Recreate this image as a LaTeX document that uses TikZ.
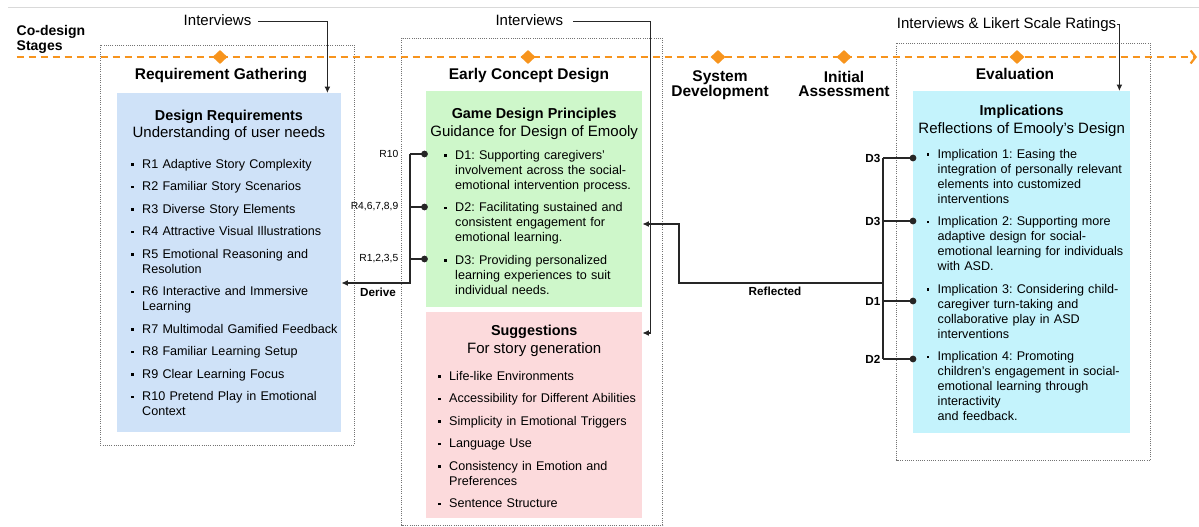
\documentclass[tikz,border=0pt]{standalone}
\usepackage{fontspec}
\setmainfont{Liberation Sans}
\usetikzlibrary{arrows.meta}
\usetikzlibrary{shapes.geometric}

\definecolor{reqblue}{HTML}{CFE2F8}
\definecolor{dpgreen}{HTML}{CEF7CA}
\definecolor{sugpink}{HTML}{FCDADC}
\definecolor{impcyan}{HTML}{C4F3FC}
\definecolor{stageorange}{HTML}{F7941D}

\frenchspacing
% one bullet point, hanging indent
\newcommand{\itm}[1]{\hangindent=11pt\hangafter=1\noindent\makebox[11pt][l]{\raisebox{2.3pt}{\rule{2.4pt}{2.4pt}}}#1\par}

\tikzset{
  stage/.style={draw=black!55, line width=.8pt, dash pattern=on .9pt off 1.3pt},
  panel/.style={fill=#1, inner sep=0pt, anchor=north west},
  stagetitle/.style={font=\fontsize{15.5}{14}\selectfont\bfseries, align=center, anchor=base, inner sep=0pt},
  boxtitle/.style={font=\fontsize{14.4}{17}\selectfont\bfseries, anchor=base, inner sep=0pt},
  boxsub/.style={font=\fontsize{15}{17}\selectfont, anchor=base, inner sep=0pt},
  itemlist/.style={font=\fontsize{12.6}{15}\selectfont, text width=#1, align=left, anchor=base west, inner sep=0pt,
    execute at begin node={\setlength{\parskip}{7.5pt}\hyphenpenalty=10000}},
  conn/.style={line width=1.2pt, draw=black!85},
  lab/.style={font=\fontsize{10.3}{12}\selectfont, anchor=east, inner sep=1pt},
  boldlab/.style={font=\fontsize{11.7}{13}\selectfont\bfseries, inner sep=1pt},
  milestone/.style={diamond, fill=stageorange, inner sep=0pt, minimum width=15pt, minimum height=14pt},
}

\begin{document}
\begin{tikzpicture}[x=1pt, y=-1pt, >={Latex[length=6.5pt,width=6pt]}]
\useasboundingbox (0,0) rectangle (1199,527);
\draw [black!15, line width=1.2pt] (8,7.3) -- (1199,7.3);

% timeline
\node [font=\fontsize{14}{15}\selectfont\bfseries, align=left, anchor=base west, inner sep=0pt] (cds) at (16.5,51) {Co-design\\Stages};
\draw [stage] (100,45) rectangle (354.5,445);
\draw [stage] (401.5,38) rectangle (662.5,525);
\draw [stage] (896.5,43.5) rectangle (1150.5,460);
\draw [stageorange, line width=2.2pt, dash pattern=on 7pt off 5pt, -{Straight Barb[length=5pt,width=13pt]}] (16.5,57) -- (1197,57);
\foreach \x [count=\i] in {220,528,718,844,1017}
  \node [milestone] (ms\i) at (\x,57) {};

\node [stagetitle] (rg) at (221,80) {Requirement Gathering};
\node [stagetitle] (ecd) at (529,80) {Early Concept Design};
\node [stagetitle] (sd) at (720,96.5) {System\\Development};
\node [stagetitle] (ia) at (844,96.5) {Initial\\Assessment};
\node [stagetitle] (ev) at (1015,80) {Evaluation};

% requirement gathering
\node [panel=reqblue, minimum width=224.5pt, minimum height=339pt] (dr) at (116.5,93) {};
\node [boxtitle] (drt) at (dr.north |- 0,120) {Design Requirements};
\node [boxsub] (drs) at (dr.north |- 0,137) {Understanding of user needs};
\node [itemlist=240pt] (drl) at (131,168) {%
  \itm{R1 Adaptive Story Complexity}
  \itm{R2 Familiar Story Scenarios}
  \itm{R3 Diverse Story Elements}
  \itm{R4 Attractive Visual Illustrations}
  \itm{R5 Emotional Reasoning and\newline Resolution}
  \itm{R6 Interactive and Immersive\newline Learning}
  \itm{R7 Multimodal Gamified Feedback}
  \itm{R8 Familiar Learning Setup}
  \itm{R9 Clear Learning Focus}
  \itm{R10 Pretend Play in Emotional\newline Context}};

% early concept design
\node [panel=dpgreen, minimum width=216pt, minimum height=216.5pt] (gdp) at (426,90.5) {};
\node [boxtitle] (gdpt) at (gdp.north |- 0,118.3) {Game Design Principles};
\node [boxsub] (gdps) at (gdp.north |- 0,136.7) {Guidance for Design of Emooly};
\node [itemlist=240pt] (gdpl) at (444,159) {%
  \itm{D1: Supporting caregivers’\newline involvement across the social-\newline emotional intervention process.}
  \itm{D2: Facilitating sustained and\newline consistent engagement for\newline emotional learning.}
  \itm{D3: Providing personalized\newline learning experiences to suit\newline individual needs.}};

\node [panel=sugpink, minimum width=216pt, minimum height=206pt] (sug) at (426,312) {};
\node [boxtitle] (sugt) at (sug.north |- 0,335.7) {Suggestions};
\node [boxsub] (sugs) at (sug.north |- 0,353.3) {For story generation};
\node [itemlist=240pt] (sugl) at (438,380) {%
  \itm{Life-like Environments}
  \itm{Accessibility for Different Abilities}
  \itm{Simplicity in Emotional Triggers}
  \itm{Language Use}
  \itm{Consistency in Emotion and\newline Preferences}
  \itm{Sentence Structure}};

% evaluation
\node [panel=impcyan, minimum width=217pt, minimum height=342pt] (imp) at (913,91) {};
\node [boxtitle] (impt) at (imp.north |- 0,115.7) {Implications};
\node [boxsub] (imps) at (imp.north |- 0,133.3) {Reflections of Emooly’s Design};
\node [itemlist=240pt] (impl) at (926.5,158) {%
  \itm{Implication 1: Easing the\newline integration of personally relevant\newline elements into customized\newline interventions}
  \itm{Implication 2: Supporting more\newline adaptive design for social-\newline emotional learning for individuals\newline with ASD.}
  \itm{Implication 3: Considering child-\newline caregiver turn-taking and\newline collaborative play in ASD\newline interventions}
  \itm{Implication 4: Promoting\newline children’s engagement in social-\newline emotional learning through\newline interactivity\newline and feedback.}};

% interviews
\node [font=\fontsize{15}{17}\selectfont, anchor=base, inner sep=0pt] (iv1) at (217.5,25.7) {Interviews};
\node [font=\fontsize{15}{17}\selectfont, anchor=base, inner sep=0pt] (iv2) at (529.3,25.7) {Interviews};
\node [font=\fontsize{15}{17}\selectfont, anchor=base west, inner sep=0pt] (iv3) at (896.7,29) {Interviews \& Likert Scale Ratings};
\draw [conn,->] ([xshift=7pt,yshift=-1.5pt]iv1.east) -| ([xshift=-14pt]dr.north east);
\draw [conn,->] ([xshift=10pt,yshift=-1.5pt]iv2.east) -| ([xshift=8pt,yshift=-21pt]sug.north east) -- ([yshift=-21pt]sug.north east);
\draw [conn,->] ([xshift=.5pt,yshift=1pt]iv3.east) -| ([xshift=-11pt]imp.north east);

% derive
\coordinate (dv) at (410,283);
\foreach \y/\r in {154/R10, 207/{R4,6,7,8,9}, 259/{R1,2,3,5}} {
  \draw [conn] (424.5,\y) -- (dv |- 0,\y);
  \fill [black!85] (424.5,\y) circle (3.4pt);
  \node [lab] (r\y) at (399.5,\y) {\r};
}
\draw [conn,->] (dv |- 0,154) -- (dv) -- (dr.east |- dv);
\node [boldlab] (derive) at (378,292) {Derive};

% reflected
\coordinate (rf) at (883,283);
\draw [conn,->] (rf) -- (679,283) |- (gdp.east |- 0,224);
\draw [conn] (rf |- 0,158) -- (rf |- 0,359);
\foreach \y/\d in {158/D3, 221/D3, 301/D1, 359/D2} {
  \draw [conn] (rf |- 0,\y) -- (imp.west |- 0,\y);
  \fill [black!85] (imp.west |- 0,\y) circle (3.4pt);
  \node [boldlab, anchor=east] (d\y) at (881.5,\y) {\d};
}
\node [boldlab] (refl) at (775,291) {Reflected};
\end{tikzpicture}
\end{document}
